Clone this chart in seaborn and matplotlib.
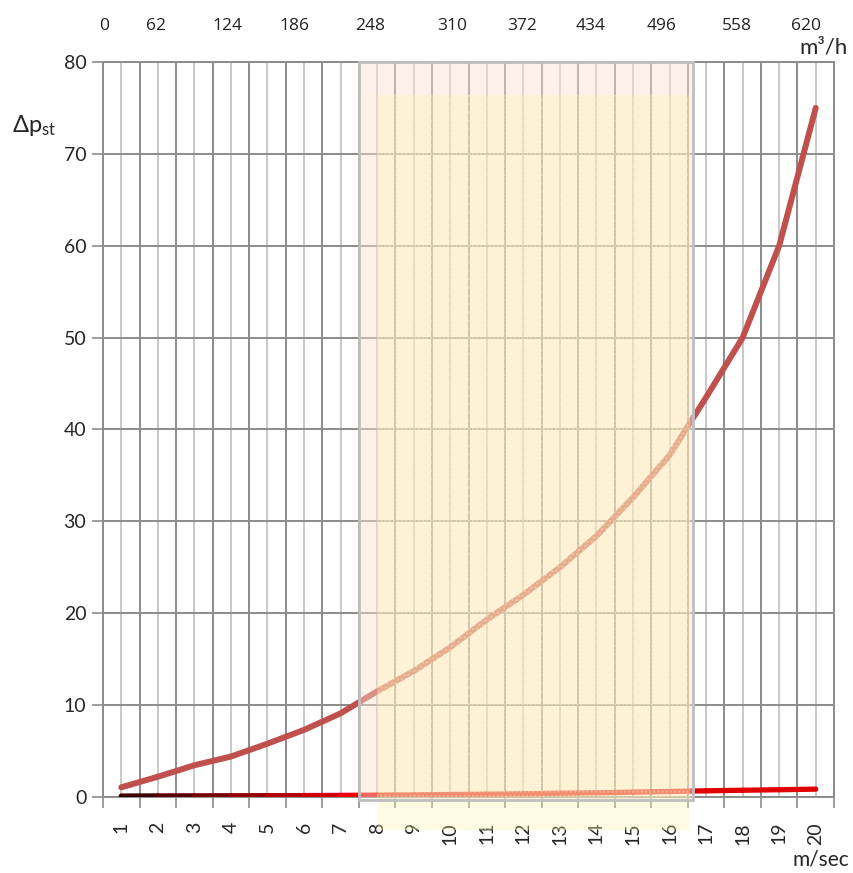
import numpy as np
import pandas as pd
import seaborn as sns
import matplotlib.pyplot as plt
from matplotlib.collections import LineCollection
from matplotlib.colors import to_rgb
from matplotlib.patches import Rectangle

# air speed categories (bottom axis) and the two pressure curves
speeds = list(range(1, 21))
dp_main = [1.05, 2.2, 3.45, 4.4, 5.8, 7.3, 9.1, 11.5, 13.7, 16.3,
           19.3, 22.0, 25.0, 28.4, 32.6, 37.2, 43.5, 50.0, 60.0, 75.0]
dp_low = [0.1, 0.11, 0.12, 0.13, 0.14, 0.15, 0.17, 0.2, 0.23, 0.27,
          0.31, 0.35, 0.4, 0.45, 0.52, 0.6, 0.67, 0.73, 0.79, 0.85]

# secondary (top) axis labels, flow in m3/h
flow_labels = ['0', '62', '124', '186', '248', '310', '372', '434', '496', '558', '620']
flow_pos = [-0.46, 0.96, 2.90, 4.75, 6.80, 9.04, 10.96, 12.85, 14.77, 16.83, 18.74]

# highlighted working range (in category units)
band_x = (6.5, 15.64)

df = pd.DataFrame({'pos': np.arange(len(speeds)), 'main': dp_main, 'low': dp_low})

sns.set_style('white')
plt.rcParams['font.family'] = ['Lato', 'DejaVu Sans']
plt.rcParams['mathtext.fontset'] = 'custom'
plt.rcParams['mathtext.rm'] = 'Lato'

fig = plt.figure(figsize=(8.54, 8.73), dpi=100)
ax = fig.add_axes([0.1206, 0.0871, 0.8560, 0.8419])

grid_dark = '#8c8c8c'
grid_light = '#c8c8c8'

# main curve
sns.lineplot(data=df, x='pos', y='main', ax=ax, color='#c0504d', linewidth=4.3,
             solid_capstyle='round', zorder=3)

# low curve with dark-to-red gradient
pts = np.column_stack([df['pos'], df['low']])
segs = np.stack([pts[:-1], pts[1:]], axis=1)
dark, bright = np.array(to_rgb('#3c0000')), np.array(to_rgb('#ff0000'))
cols = []
for i in range(len(segs)):
    t = min(i / 6.5, 1.0)
    cols.append(dark + (bright - dark) * t if i < 7 else to_rgb('#e00000'))
lc = LineCollection(segs, colors=cols, linewidths=3.8, capstyle='round', zorder=3)
ax.add_collection(lc)

ax.set_xlim(-0.5, 19.5)
ax.set_ylim(0, 80)

# ticks: boundaries (major, marks) and centres (minor, labels)
ax.set_xticks(np.arange(-0.5, 20, 1))
ax.set_xticklabels([])
ax.set_xticks(df['pos'], minor=True)
ax.set_xticklabels([str(s) for s in speeds], minor=True, rotation=90, fontsize=14)
ax.tick_params(axis='x', which='major', length=8, width=1.2, color=grid_dark, direction='out')
ax.tick_params(axis='x', which='minor', length=0, pad=18)
ax.set_yticks(range(0, 81, 10))
ax.tick_params(axis='y', length=8, width=1.2, color=grid_dark, direction='out', labelsize=14, pad=4)
ax.tick_params(bottom=True, left=True)

ax.grid(True, axis='y', which='major', color=grid_dark, linewidth=1.4)
ax.grid(True, axis='x', which='major', color=grid_dark, linewidth=1.4)
ax.grid(True, axis='x', which='minor', color=grid_light, linewidth=1.4)
ax.set_axisbelow(True)
for s in ax.spines.values():
    s.set_color(grid_dark)
    s.set_linewidth(1.4)
ax.set_xlabel('')
ax.set_ylabel('')

# highlighted range
ax.add_patch(Rectangle((band_x[0], -0.35), band_x[1] - band_x[0], 80.35,
                       facecolor='#fde2d0', alpha=0.45, edgecolor='none',
                       zorder=4, clip_on=False))
ax.add_patch(Rectangle((band_x[0] + 0.5, -3.6), band_x[1] - band_x[0] - 0.58, 80.0,
                       facecolor='#fff3a0', alpha=0.28, edgecolor='#fffbe0', hatch='....',
                       linewidth=0, zorder=4, clip_on=False))
ax.add_patch(Rectangle((band_x[0], -0.35), band_x[1] - band_x[0], 80.35,
                       facecolor='none', edgecolor='#bfbfbf', linewidth=2,
                       zorder=5, clip_on=False))

# top axis with flow values
top = ax.twiny()
top.set_xlim(ax.get_xlim())
top.set_xticks(flow_pos)
top.set_xticklabels(flow_labels, family=['Open Sans', 'DejaVu Sans'], fontsize=12.5, color='#222222')
top.tick_params(axis='x', length=0, pad=20)
for s in top.spines.values():
    s.set_visible(False)

fig.text(0.993, 0.946, 'm³/h', ha='right', va='center', fontsize=16)
fig.text(0.014, 0.856, r'$\mathrm{\Delta p_{st}}$', ha='left', va='center', fontsize=17)
fig.text(0.995, 0.015, 'm/sec', ha='right', va='center', fontsize=15)

fig.savefig('out.png', dpi=100)
